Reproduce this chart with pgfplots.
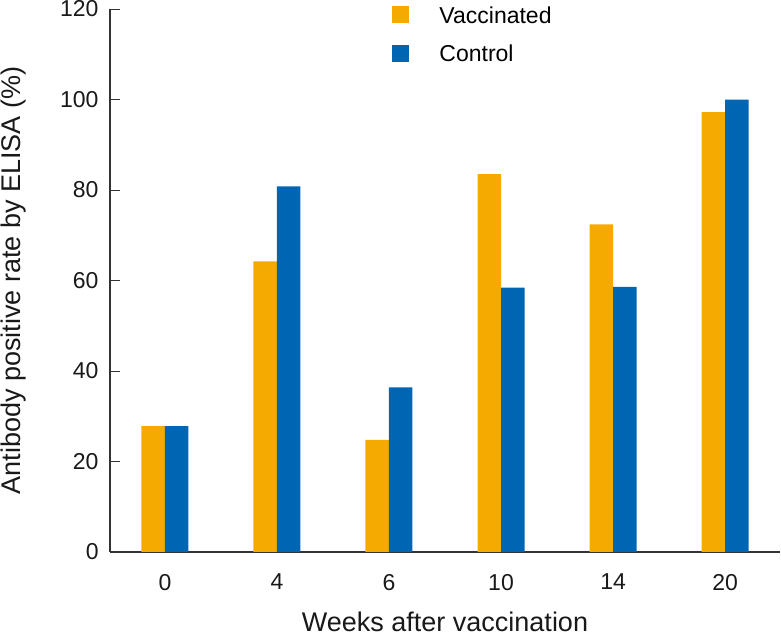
\documentclass[border=0pt]{standalone}
\usepackage{fontspec}
\setmainfont{Liberation Sans}
\usepackage{pgfplots}
\pgfplotsset{compat=1.18}
\definecolor{vacc}{HTML}{F4AA00}
\definecolor{ctrl}{HTML}{0066B3}
\definecolor{axisgray}{HTML}{333333}

\begin{document}
\begin{tikzpicture}
\begin{axis}[
    name=ax,
    scale only axis,
    width=335pt,
    height=271.5pt,
    ybar=0pt,
    bar width=11.75pt,
    xmin=-0.49, xmax=5.49,
    ymin=0, ymax=120,
    xtick={0,...,5},
    xticklabels={0,4,6,10,14,20},
    ytick={0,20,...,120},
    axis x line*=bottom,
    axis y line*=left,
    axis line style={axisgray, line width=0.6pt},
    x tick style={draw=none},
    y tick style={axisgray, line width=0.5pt},
    tick align=inside,
    major tick length=5pt,
    /pgf/number format/assume math mode=true,
    tick label style={font=\fontsize{11.5}{13}\selectfont, text=black!90},
    xticklabel style={yshift=-7.5pt},
    yticklabel style={xshift=-2.2pt},
    xlabel={Weeks after vaccination},
    ylabel={Antibody positive rate by ELISA (\%)},
    label style={font=\fontsize{13.5}{15}\selectfont, text=black!90},
    xlabel style={at={(axis description cs:0.5,-0.128)}, anchor=center},
    ylabel style={at={(axis description cs:-0.1433,0.5)}, anchor=center},
    legend style={at={(rel axis cs:0.421,1.0055)}, anchor=north west,
        draw=none, fill=none, inner sep=0pt, row sep=9.25pt,
        font=\fontsize{11.5}{13}\selectfont,
        nodes={inner sep=0pt, anchor=base west},
        /tikz/every odd column/.append style={column sep=15pt}},
    legend cell align=left,
    clip=false,
]
\addplot[fill=vacc, draw=none,
    legend image code/.code={\fill[vacc] (0pt,0pt) rectangle (8.5pt,8.5pt);}]
    coordinates {(0,27.8) (1,64.2) (2,24.8) (3,83.5) (4,72.4) (5,97.2)};
\addplot[fill=ctrl, draw=none,
    legend image code/.code={\fill[ctrl] (0pt,0pt) rectangle (8.5pt,8.5pt);}]
    coordinates {(0,27.8) (1,80.8) (2,36.4) (3,58.4) (4,58.6) (5,100)};
\legend{Vaccinated,Control}
\coordinate (bbSW) at (rel axis cs:-0.1642,-0.1529);
\coordinate (bbNE) at (rel axis cs:1.0015,1.0166);
\end{axis}
\pgfresetboundingbox
\path (bbSW) rectangle (bbNE);
\end{tikzpicture}
\end{document}
